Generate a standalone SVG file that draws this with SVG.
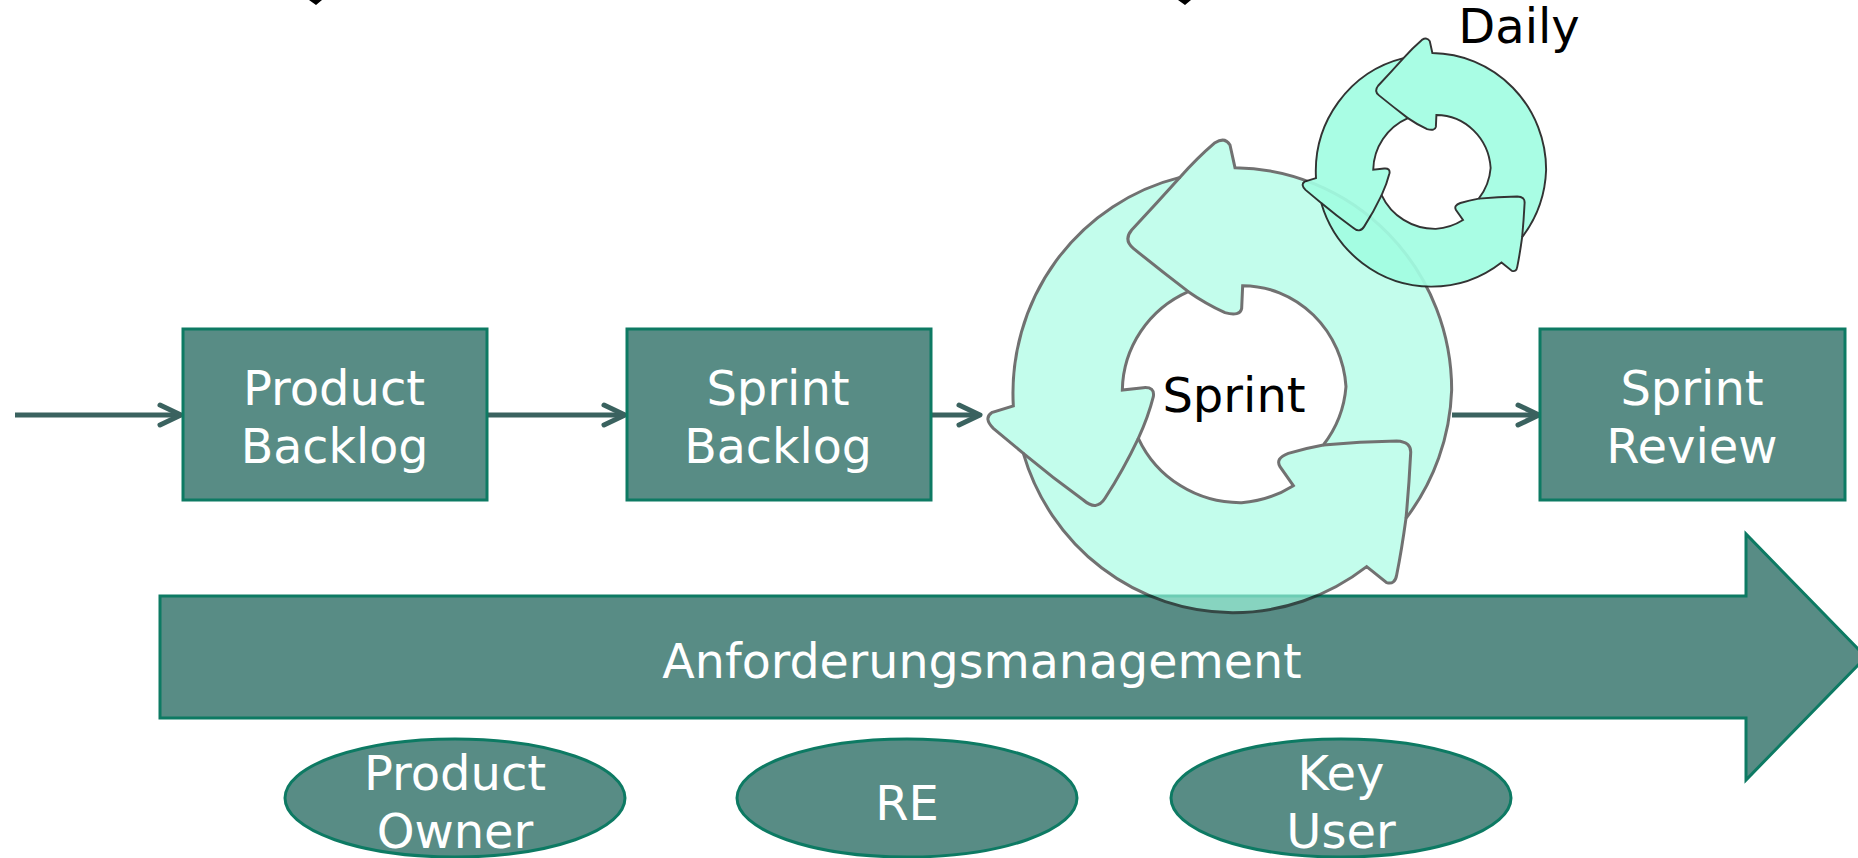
<svg xmlns="http://www.w3.org/2000/svg" width="1858" height="858" viewBox="0 0 1858 858">
<style>
text{font-family:"DejaVu Sans",Verdana,sans-serif;font-size:48px;text-anchor:middle}
.w{fill:#fff}.k{fill:#000}
.box{fill:#588c85;stroke:#0d7a63;stroke-width:3}
.conn{fill:none;stroke:#3a625f;stroke-width:5;stroke-linejoin:round}
.head{stroke-linecap:round}
.ringf{fill:#a2fde2;fill-rule:evenodd;stroke:#222;stroke-width:9}
.ringl{fill:none;stroke:#222;stroke-width:9}
.daily .ringf,.daily .ringl{stroke-width:11}
</style>
<defs>
<path id="r1" d="M825 143A658 667 0 0 1 1475 810A658 667 0 0 1 1338 1195Q1325 1290 1310 1365Q1305 1395 1280 1388L1220 1340A658 667 0 0 1 817 1478A658 667 0 0 1 190 1000L100 925Q70 895 95 878L160 858A658 667 0 0 1 660 172Q710 115 765 68Q795 50 810 75ZM487 810A336 330 0 0 1 685 515Q735 550 795 578Q840 590 845 565L848 497A312 325 0 0 1 1158 800A336 330 0 0 1 1090 975Q1035 985 985 1000Q945 1015 960 1040L1000 1097A336 330 0 0 1 845 1148A336 330 0 0 1 535 955Q565 890 580 830Q585 800 550 803Z"/>
<path id="r2" d="M660 172Q590 250 515 330Q490 360 520 385Q600 450 685 515M190 1000Q280 1075 370 1140Q410 1175 435 1135Q490 1050 535 955M1090 975Q1200 965 1310 963Q1355 965 1352 1000Q1347 1100 1338 1195"/>
</defs>
<g id="clipped-marks"><path d="M309 0H322L316 5Z M1178 0H1191L1185 5Z" fill="#000"/></g>
<g id="connectors" class="conn">
<path d="M15 415H180"/><path class="head" d="M160 405L181 415L160 425"/>
<path d="M488 415H623"/><path class="head" d="M604 405L625 415L604 425"/>
<path d="M932 415H979"/><path class="head" d="M959 405L980 415L959 425"/>
<path d="M1452 415H1537"/><path class="head" d="M1518 405L1539 415L1518 425"/>
</g>
<g id="product-backlog"><rect class="box" x="183" y="329" width="304" height="171"/><text class="w" x="334" y="405">Product</text><text class="w" x="334.500" y="463" style="font-size:47.500px">Backlog</text></g>
<g id="sprint-backlog"><rect class="box" x="627" y="329" width="304" height="171"/><text class="w" x="778" y="405">Sprint</text><text class="w" x="778" y="463" style="font-size:47.500px">Backlog</text></g>
<g id="sprint-review"><rect class="box" x="1540" y="329" width="305" height="171"/><text class="w" x="1692" y="405">Sprint</text><text class="w" x="1692" y="463">Review</text></g>
<g id="anforderungsmanagement"><path class="box" d="M160 596H1746V534L1866 657L1746 780V718H160Z"/><text class="w" x="982" y="678" style="font-size:47.500px">Anforderungsmanagement</text></g>
<g id="product-owner"><ellipse class="box" cx="455" cy="798" rx="170" ry="59"/><text class="w" x="455" y="790">Product</text><text class="w" x="455" y="848">Owner</text></g>
<g id="re"><ellipse class="box" cx="907" cy="798" rx="170" ry="59"/><text class="w" x="907" y="820">RE</text></g>
<g id="key-user"><ellipse class="box" cx="1341" cy="798" rx="170" ry="59"/><text class="w" x="1341" y="790">Key</text><text class="w" x="1341" y="848">User</text></g>
<g id="sprint"><g opacity=".64" transform="translate(960 120) scale(.33333)"><use href="#r1" class="ringf"/><use href="#r2" class="ringl"/></g><text class="k" x="1234" y="412">Sprint</text></g>
<g id="daily"><g class="daily" opacity=".92" transform="translate(1288 28) scale(.175)"><use href="#r1" class="ringf"/><use href="#r2" class="ringl"/></g><text class="k" x="1519" y="43">Daily</text></g>
</svg>
